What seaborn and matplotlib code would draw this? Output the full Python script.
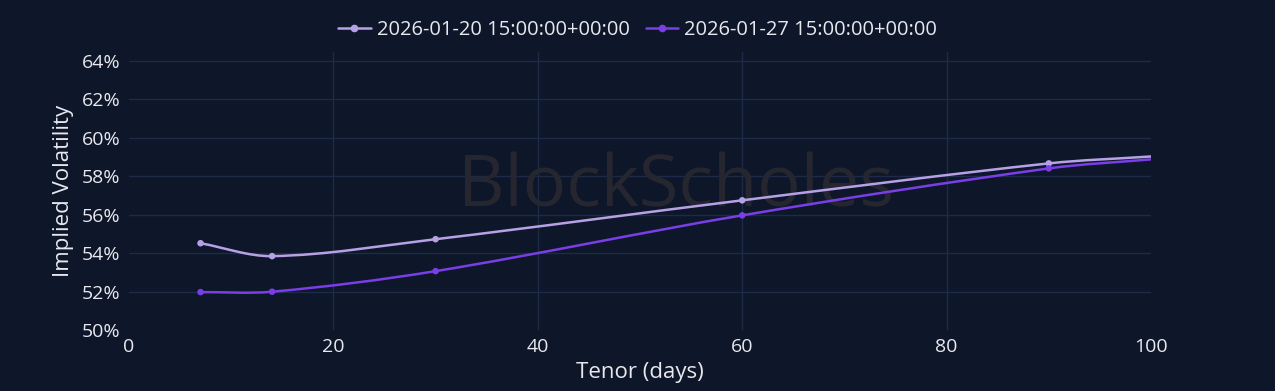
import numpy as np
import pandas as pd
import matplotlib
matplotlib.use("Agg")
import matplotlib.pyplot as plt
import seaborn as sns
from matplotlib.path import Path
from matplotlib.patches import PathPatch
from matplotlib.lines import Line2D

# ---- data ----
tenor = [7, 14, 30, 60, 90, 100]
iv_0120 = [54.51, 53.84, 54.72, 56.74, 58.66, 59.02]
iv_0127 = [51.97, 51.99, 53.06, 55.96, 58.40, 58.87]
series_names = ["2026-01-20 15:00:00+00:00", "2026-01-27 15:00:00+00:00"]
colors = ["#b7a1e6", "#7a3ee6"]
yticks = [50, 52, 54, 56, 58, 60, 62, 64]
xticks = [0, 20, 40, 60, 80, 100]

bg = "#0e1629"
grid = "#1d2b48"

sns.set_theme(style="dark")
plt.rcParams["font.family"] = ["Open Sans", "DejaVu Sans"]

fig = plt.figure(figsize=(12.75, 3.91), dpi=100, facecolor=bg)
ax = fig.add_axes([129 / 1275, 1 - 330 / 391, (1151 - 129) / 1275, (330 - 52) / 391])
ax.set_facecolor(bg)

df = pd.DataFrame({
    "tenor": tenor * 2,
    "iv": iv_0120 + iv_0127,
    "series": [series_names[0]] * len(tenor) + [series_names[1]] * len(tenor),
})


def spline_path(xs, ys):
    x = np.asarray(xs, float)
    y = np.asarray(ys, float)
    n = len(x)
    m = np.empty(n)
    m[0] = (y[1] - y[0]) / (x[1] - x[0])
    m[-1] = (y[-1] - y[-2]) / (x[-1] - x[-2])
    for i in range(1, n - 1):
        m[i] = (y[i + 1] - y[i - 1]) / (x[i + 1] - x[i - 1])
    verts = [(x[0], y[0])]
    codes = [Path.MOVETO]
    for i in range(n - 1):
        h = x[i + 1] - x[i]
        verts += [(x[i] + h / 3, y[i] + m[i] * h / 3),
                  (x[i + 1] - h / 3, y[i + 1] - m[i + 1] * h / 3),
                  (x[i + 1], y[i + 1])]
        codes += [Path.CURVE4] * 3
    return Path(verts, codes)


for name, col in zip(series_names, colors):
    sub = df[df["series"] == name]
    ax.add_patch(PathPatch(spline_path(sub["tenor"].values, sub["iv"].values),
                           facecolor="none", edgecolor=col, lw=1.8, zorder=3))
    mk = sub[sub["tenor"] < 100]
    sns.scatterplot(data=mk, x="tenor", y="iv", color=col, s=22, edgecolor="none",
                    ax=ax, zorder=4, legend=False)

handles = [Line2D([0], [0], color=c, lw=1.8, marker="o", markersize=4.5) for c in colors]
leg = fig.legend(handles, series_names, loc="center", bbox_to_anchor=(0.5, 1 - 30 / 391),
                 ncol=2, frameon=False, fontsize=14.5, handlelength=1.6, handletextpad=0.3,
                 columnspacing=0.8)
for t in leg.get_texts():
    t.set_color("#e8e8ee")

ax.set_xlim(0, 100)
ax.set_ylim(50, 64.45)
ax.set_xticks(xticks)
ax.set_yticks(yticks)
ax.set_yticklabels([f"{v}%" for v in yticks])
ax.tick_params(colors="#e8e8ee", labelsize=14, length=0, pad=6)
ax.grid(True, color=grid, lw=1)
for s in ax.spines.values():
    s.set_visible(False)
for gl, v in zip(ax.get_xgridlines(), xticks):
    if v in (0, 100):
        gl.set_visible(False)
for gl, v in zip(ax.get_ygridlines(), yticks):
    if v == 50:
        gl.set_visible(False)

ax.set_xlabel("Tenor (days)", color="#e8e8ee", fontsize=16, labelpad=4)
ax.set_ylabel("Implied Volatility", color="#e8e8ee", fontsize=16, labelpad=6)

ax.text(0.535, 0.51, "BlockScholes", transform=ax.transAxes, fontsize=52,
        color="#252630", ha="center", va="center", zorder=1)

fig.savefig("out.png", dpi=100, facecolor=bg)
